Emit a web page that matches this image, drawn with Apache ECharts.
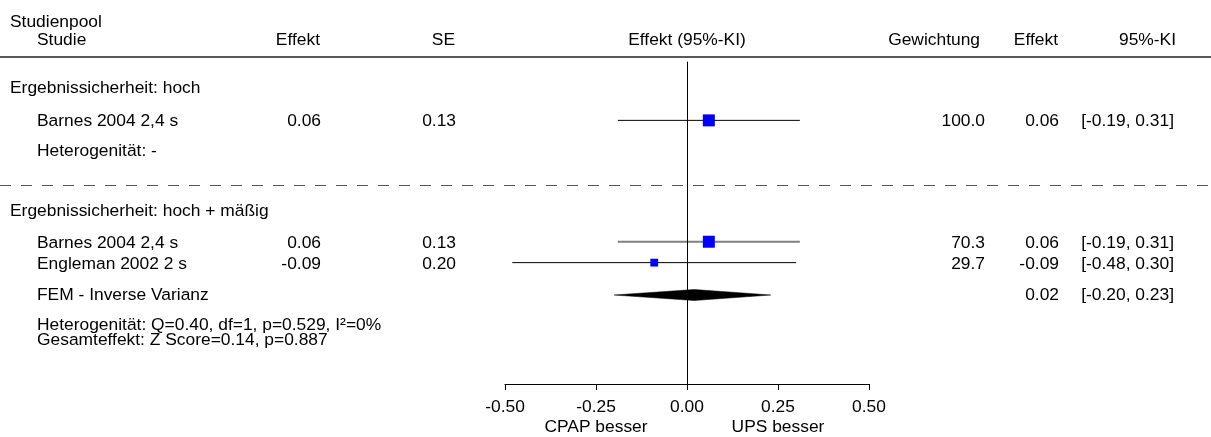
<!DOCTYPE html>
<html>
<head>
<meta charset="utf-8">
<script src="https://cdn.jsdelivr.net/npm/echarts@6/dist/echarts.min.js"></script>
<style>
  html, body { margin: 0; padding: 0; background: #fff; }
  #chart { width: 1211px; height: 437px; }
</style>
</head>
<body>
<div id="chart"></div>
<script>
// ---- data ----
const studyNames   = ['Barnes 2004 2,4 s', 'Barnes 2004 2,4 s', 'Engleman 2002 2 s'];
const studyEffect  = [0.06, 0.06, -0.09];
const studySE      = [0.13, 0.13, 0.20];
const studyLower   = [-0.19, -0.19, -0.48];
const studyUpper   = [0.31, 0.31, 0.30];
const studyWeight  = [100.0, 70.3, 29.7];

const pooledName   = 'FEM - Inverse Varianz';
const pooledEffect = 0.02;
const pooledLower  = -0.20;
const pooledUpper  = 0.23;

const groupTitles  = ['Ergebnissicherheit: hoch', 'Ergebnissicherheit: hoch + mäßig'];
const groupNotes   = [
  ['Heterogenität: -'],
  ['Heterogenität: Q=0.40, df=1, p=0.529, I²=0%', 'Gesamteffekt: Z Score=0.14, p=0.887']
];
const axisTicks    = [-0.50, -0.25, 0.00, 0.25, 0.50];
const sideLabels   = { '-0.25': 'CPAP besser', '0.25': 'UPS besser' };

// ---- layout (row positions, vertical pixel units of the plot grid) ----
const studyRowY   = [121, 243, 264];
const pooledRowY  = 295;
const groupTitleY = [88, 211];
const groupNoteY  = [[151], [325, 340]];
const separatorY  = 185.5;
const headerLineY = 57;
const zeroLineTop = 62;
const axisY       = 386;
const ciColors    = ['#000000', '#808080', '#000000'];
const ciWidths    = [1, 2, 1];

const FONT = '"Liberation Sans", Arial, Helvetica, sans-serif';
const FS = 17.4;

const chart = echarts.init(document.getElementById('chart'), null, { renderer: 'canvas' });

function txt(text, x, y, align) {
  return {
    type: 'text', silent: true, z: 10,
    style: {
      text: text, x: x, y: y,
      align: align || 'left', verticalAlign: 'middle',
      fontFamily: FONT, fontSize: FS, fill: '#000'
    }
  };
}

const fmt2 = v => v.toFixed(2);
const graphics = [];

// header
graphics.push(txt('Studienpool', 10, 22));
graphics.push(txt('Studie', 37, 40));
graphics.push(txt('Effekt', 320, 40, 'right'));
graphics.push(txt('SE', 455, 40, 'right'));
graphics.push(txt('Effekt (95%-KI)', 687, 40, 'center'));
graphics.push(txt('Gewichtung', 980, 40, 'right'));
graphics.push(txt('Effekt', 1058, 40, 'right'));
graphics.push(txt('95%-KI', 1176, 40, 'right'));
graphics.push({
  type: 'line', silent: true,
  shape: { x1: 0, y1: headerLineY, x2: 1211, y2: headerLineY },
  style: { stroke: '#222', lineWidth: 1.5 }
});
graphics.push({
  type: 'line', silent: true,
  shape: { x1: 0, y1: separatorY, x2: 1211, y2: separatorY },
  style: { stroke: '#555', lineWidth: 1, lineDash: [11, 10] }
});

// group titles and notes
groupTitles.forEach((t, g) => {
  graphics.push(txt(t, 10, groupTitleY[g]));
  groupNotes[g].forEach((n, k) => graphics.push(txt(n, 37, groupNoteY[g][k])));
});

// study rows
studyNames.forEach((name, i) => {
  const y = studyRowY[i];
  graphics.push(txt(name, 37, y));
  graphics.push(txt(fmt2(studyEffect[i]), 321, y, 'right'));
  graphics.push(txt(fmt2(studySE[i]), 456, y, 'right'));
  graphics.push(txt(studyWeight[i].toFixed(1), 985, y, 'right'));
  graphics.push(txt(fmt2(studyEffect[i]), 1059, y, 'right'));
  graphics.push(txt('[' + fmt2(studyLower[i]) + ', ' + fmt2(studyUpper[i]) + ']', 1174, y, 'right'));
});

// pooled row
graphics.push(txt(pooledName, 37, pooledRowY));
graphics.push(txt(fmt2(pooledEffect), 1059, pooledRowY, 'right'));
graphics.push(txt('[' + fmt2(pooledLower) + ', ' + fmt2(pooledUpper) + ']', 1174, pooledRowY, 'right'));

// marker size grows with study weight, capped for the largest studies
const boxSize = w => Math.min(12, 1.43 * Math.sqrt(w));

const option = {
  animation: false,
  backgroundColor: '#fff',
  grid: { left: 505, width: 364, top: 0, height: axisY, containLabel: false },
  xAxis: {
    type: 'value', position: 'bottom',
    min: axisTicks[0], max: axisTicks[axisTicks.length - 1], interval: 0.25,
    axisLine: { show: true, onZero: false, lineStyle: { color: '#000', width: 1 } },
    axisTick: { show: true, length: 6, inside: false, lineStyle: { color: '#000' } },
    splitLine: { show: false },
    axisLabel: {
      margin: 13, color: '#000', fontFamily: FONT, fontSize: FS, lineHeight: 20,
      formatter: v => {
        const key = String(v);
        const s = fmt2(v);
        return sideLabels[key] ? s + '\n' + sideLabels[key] : s;
      }
    }
  },
  yAxis: {
    type: 'value', min: 0, max: axisY, inverse: true, show: false
  },
  graphic: graphics,
  series: [
    {
      // confidence intervals of the single studies
      type: 'custom', z: 2,
      data: studyEffect.map((e, i) => [studyLower[i], studyUpper[i], studyRowY[i], i]),
      renderItem: (params, api) => {
        const a = api.coord([api.value(0), api.value(2)]);
        const b = api.coord([api.value(1), api.value(2)]);
        const i = api.value(3);
        return {
          type: 'line',
          shape: { x1: a[0], y1: a[1], x2: b[0], y2: b[1] },
          style: { stroke: ciColors[i], lineWidth: ciWidths[i] }
        };
      },
      markLine: {
        silent: true, symbol: 'none', label: { show: false },
        lineStyle: { color: '#000', width: 1, type: 'solid' },
        data: [[{ coord: [0, zeroLineTop] }, { coord: [0, axisY] }]]
      }
    },
    {
      // point estimates
      type: 'scatter', z: 3, symbol: 'rect',
      data: studyEffect.map((e, i) => [e, studyRowY[i], studyWeight[i]]),
      symbolSize: d => boxSize(d[2]),
      itemStyle: { color: '#0000ff', opacity: 1 }
    },
    {
      // pooled estimate diamond
      type: 'custom', z: 3,
      data: [[pooledLower, pooledEffect, pooledUpper, pooledRowY]],
      renderItem: (params, api) => {
        const y = api.value(3);
        const l = api.coord([api.value(0), y]);
        const c = api.coord([api.value(1), y]);
        const r = api.coord([api.value(2), y]);
        const h = 5.5;
        return {
          type: 'polygon',
          shape: { points: [[l[0], y], [c[0], y - h], [r[0], y], [c[0], y + h]] },
          style: { fill: '#000', stroke: '#000', lineWidth: 0.5 }
        };
      }
    }
  ]
};

chart.setOption(option);
</script>
</body>
</html>
